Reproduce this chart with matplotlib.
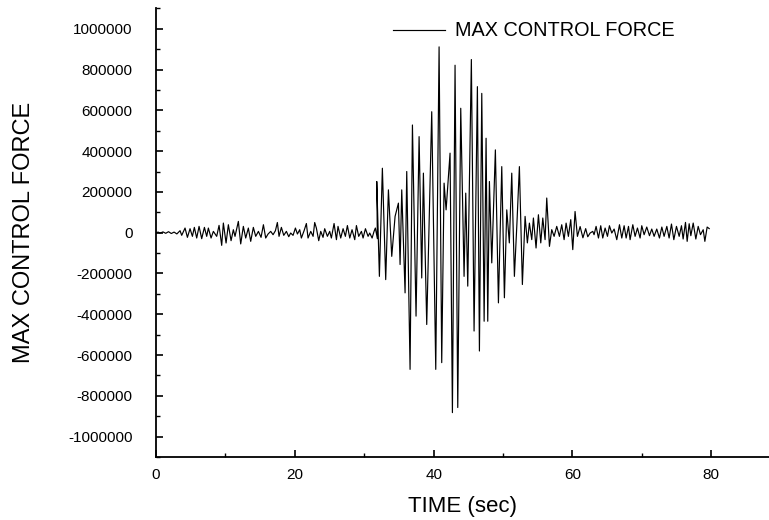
import matplotlib
matplotlib.use("Agg")
import matplotlib.pyplot as plt
from matplotlib.ticker import MultipleLocator, FuncFormatter
import numpy as np

# peaks / troughs (time in sec, force)
time_start = [0.0, 0.3, 0.6, 1.0, 1.4, 1.8, 2.2, 2.6, 3.0, 3.3]
force_start = [0, 3000, -2000, 4000, -3000, 5000, -4000, 3000, -6000, 4000]

time_early = [3.46, 3.70, 4.18, 4.52, 4.90, 5.24, 5.52, 5.86, 6.20, 6.58,
              6.97, 7.30, 7.54, 7.93, 8.26, 8.74, 9.08, 9.46, 9.70, 10.09,
              10.42, 10.81, 11.14, 11.38, 11.86, 12.20, 12.58, 12.92, 13.30, 13.64,
              14.02, 14.36, 14.75, 15.13, 15.47, 15.80]
force_early = [9800, -13000, 22800, -22800, 19600, -17900, 26100, -26100, 31000, -29300,
               26100, -17900, 22800, -26100, 6500, -17900, 35900, -62000, 47300, -50500,
               39100, -39100, 14700, -17900, 55400, -55000, 31000, -26100, 22800, -42400,
               26100, -17900, 6500, -22800, 39100, -26100]

time_mid = [16.14, 16.52, 16.86, 17.20, 17.48, 17.72, 18.06, 18.40, 18.78, 19.12,
            19.40, 19.74, 20.08, 20.37, 20.70, 20.94, 21.33, 21.66, 21.90, 22.29,
            22.63, 22.86, 23.10, 23.44, 23.73, 24.06, 24.30, 24.69, 25.02, 25.26,
            25.65, 25.99, 26.22, 26.61, 26.95, 27.28, 27.57, 27.91, 28.24, 28.63,
            28.87, 29.20, 29.59, 29.83, 30.17, 30.55, 30.79, 31.13, 31.41, 31.60,
            31.89]
force_mid = [-6500, 6500, -9800, 9800, 50000, -17900, 26100, -13000, 6500, -19600,
             -1600, -13000, 22800, -6500, 14700, -26100, 9800, 45000, -26100, 6500,
             -17900, 50000, 22800, -39100, 6500, -22800, 19600, -17900, 6500, -26100,
             45000, -34200, 31000, -26100, 19600, -17900, 35000, -26100, 14700, -34200,
             35000, -17900, 6500, -26100, 19600, -17900, -1600, -26100, 6500, 22800,
             -29300]

time_burst = [31.80, 32.18, 32.61, 33.09, 33.48, 33.96, 34.44, 34.92, 35.16, 35.40,
              35.88, 36.12, 36.60, 36.94, 37.46, 37.90, 38.28, 38.52, 39.00, 39.72,
              40.30, 40.78, 41.16, 41.50, 41.79, 42.36, 42.70, 43.08, 43.47, 43.90,
              44.38, 44.62, 44.91, 45.43, 45.82, 46.30, 46.59, 46.93, 47.27, 47.55,
              47.79, 48.03, 48.37, 48.89, 49.33, 49.81, 50.19, 50.53, 50.90, 51.25,
              51.63, 52.00, 52.35, 52.78]
force_burst = [251000, -214000, 316000, -230000, 210000, -116000, 80000, 145000, -156000, 210000,
               -295000, 300000, -670000, 528000, -409000, 471000, -222000, 292000, -450000, 593000,
               -670000, 911000, -637000, 243000, 112000, 390000, -882000, 821000, -857000, 610000,
               -214000, 194000, -262000, 849000, -482000, 716000, -580000, 683000, -434000, 463000,
               -434000, 251000, -148000, 406000, -344000, 324000, -319000, 112000, -50000, 292000,
               -214000, 50000, 324000, -254000]

time_decay = [53.17, 53.50, 53.79, 54.13, 54.37, 54.75, 55.09, 55.43, 55.72, 56.05,
              56.29, 56.68, 57.01, 57.35, 57.73, 58.12, 58.45, 58.79, 59.08, 59.41,
              59.75, 60.04, 60.37, 60.71, 61.10, 61.50, 61.90, 62.20]
force_decay = [80000, -50000, 47000, -34000, 72000, -75000, 88000, -50000, 72000, -34000,
               170000, -67000, 15000, -18000, 31000, -18000, 39000, -34000, 47000, -18000,
               64000, -83000, 104000, -18000, 30000, -25000, 20000, -20000]

time_tail = [62.54, 62.92, 63.11, 63.40, 63.74, 64.07, 64.36, 64.70, 65.04, 65.32,
             65.66, 66.00, 66.38, 66.77, 67.10, 67.44, 67.73, 68.07, 68.30, 68.69,
             69.02, 69.36, 69.74, 69.98, 70.32, 70.70, 71.09, 71.42, 71.76, 72.14,
             72.53, 72.87, 73.20, 73.59, 73.92, 74.26, 74.60, 74.98, 75.37, 75.70,
             75.94, 76.28, 76.52, 76.81, 77.05, 77.39, 77.77, 78.11, 78.44, 78.83,
             79.07, 79.40, 79.70]
force_tail = [-1600, 6500, -9800, 31000, -26100, 34200, -26100, 22800, -17900, 34200,
              -1600, 17900, -34200, 39100, -26100, 34200, -26100, 31000, -34200, 39100,
              -17900, 22800, -26100, 34200, -9800, 27700, -14700, 17900, -17900, 17900,
              -26100, 27700, -17900, 31000, -26100, 42400, -34200, 31000, -17900, 34200,
              -31000, 50500, -42400, 44000, -14700, 47300, -31000, 31000, -9800, 14700,
              -42400, 27700, 20000]

t = np.concatenate([time_start, time_early, time_mid, time_burst, time_decay, time_tail])
force = np.concatenate([force_start, force_early, force_mid, force_burst, force_decay, force_tail])

plt.rcParams['font.family'] = ['Liberation Sans', 'DejaVu Sans']

fig = plt.figure(figsize=(7.69, 5.20), dpi=100)
ax = fig.add_axes([0.2029, 0.121, 0.797, 0.863])

ax.plot(t, force, color='black', linewidth=0.85, label='MAX CONTROL FORCE')

ax.set_xlim(0, 88.3)
ax.set_ylim(-1100000, 1100000)

ax.xaxis.set_major_locator(MultipleLocator(20))
ax.xaxis.set_minor_locator(MultipleLocator(10))
ax.yaxis.set_major_locator(MultipleLocator(200000))
ax.yaxis.set_minor_locator(MultipleLocator(100000))
ax.yaxis.set_major_formatter(FuncFormatter(lambda v, p: str(int(round(v)))))

ax.spines['top'].set_visible(False)
ax.spines['right'].set_visible(False)
ax.spines['left'].set_linewidth(1.3)
ax.spines['bottom'].set_linewidth(1.3)

ax.tick_params(axis='both', which='major', direction='in', length=5, width=1.2, labelsize=11)
ax.tick_params(axis='both', which='minor', direction='in', length=3, width=1.0)
ax.tick_params(axis='y', which='major', pad=17)
ax.tick_params(axis='x', which='major', pad=8)

ax.set_xlabel('TIME (sec)', fontsize=16, labelpad=10)
ax.set_ylabel('MAX CONTROL FORCE', fontsize=17, labelpad=24)

ax.legend(loc='center left', bbox_to_anchor=(393 / 769, 1 - 31 / 520),
          bbox_transform=fig.transFigure, frameon=False, fontsize=14.3,
          borderpad=0, borderaxespad=0, handlelength=2.6, handletextpad=0.5)

fig.savefig('out.png', dpi=100)
